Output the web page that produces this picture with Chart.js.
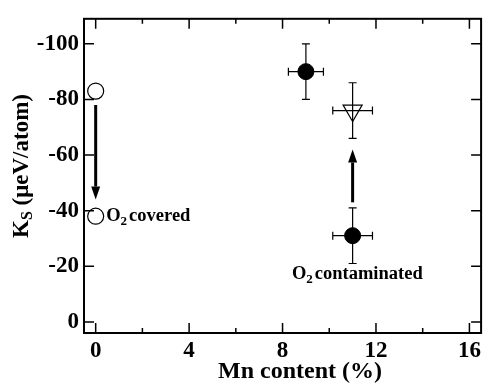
<!DOCTYPE html>
<html>
<head>
<meta charset="utf-8">
<script src="https://cdn.jsdelivr.net/npm/chart.js@4.4.0/dist/chart.umd.min.js"></script>
<style>
  html, body { margin: 0; padding: 0; background: #fff; }
  #wrap { width: 485px; height: 392px; }
</style>
</head>
<body>
<div id="wrap"><canvas id="ksChart"></canvas></div>
<script>
// O2 covered films (open circles)
const coveredMn = [0, 0];
const coveredKs = [-83, -38];
// clean films (filled circles)
const cleanMn = [9, 11];
const cleanKs = [-90, -31];
const cleanMnErr = [0.75, 0.85];
const cleanKsErr = [10, 10];
// O2 contaminated film (open triangle)
const contamMn = [11];
const contamKs = [-76];
const contamMnErr = [0.85];
const contamKsErr = [10];

const xMajorTicks = [0, 4, 8, 12, 16];
const xMinorTicks = [2, 6, 10, 14];
const yTicks = [0, -20, -40, -60, -80, -100];

// arrows as [mn, ks start, ks end]
const arrows = [[0, -78, -44], [11, -43, -62]];
// labels: left edge at (mn, ks)
const notes = [
  { mn: 0.45, ks: -38, text: 'covered' },
  { mn: 8.4, ks: -17, text: 'contaminated' }
];

const SERIF = '"Liberation Serif", "Times New Roman", serif';
const toPoints = (xs, ys) => xs.map((x, i) => ({ x: x, y: ys[i] }));

// "O" + subscript 2 + rest of the label
function drawO2(ctx, x, y, rest) {
  ctx.font = 'bold 18.5px ' + SERIF;
  ctx.fillText('O', x, y);
  x += ctx.measureText('O').width;
  ctx.font = 'bold 13px ' + SERIF;
  ctx.fillText('2', x, y + 5);
  x += ctx.measureText('2').width + 2;
  ctx.font = 'bold 18.5px ' + SERIF;
  ctx.fillText(rest, x, y);
}

const extras = {
  id: 'extras',
  beforeDatasetsDraw(chart) {
    const { ctx, scales: { x, y } } = chart;
    ctx.save();
    ctx.strokeStyle = '#000';
    ctx.lineWidth = 1.2;
    chart.data.datasets.forEach(ds => {
      if (!ds.xErr) return;
      ds.data.forEach((p, i) => {
        const px = x.getPixelForValue(p.x), py = y.getPixelForValue(p.y);
        const x0 = x.getPixelForValue(p.x - ds.xErr[i]);
        const x1 = x.getPixelForValue(p.x + ds.xErr[i]);
        const y0 = y.getPixelForValue(p.y - ds.yErr[i]);
        const y1 = y.getPixelForValue(p.y + ds.yErr[i]);
        const cap = 4;
        ctx.beginPath();
        ctx.moveTo(x0, py); ctx.lineTo(x1, py);
        ctx.moveTo(x0, py - cap); ctx.lineTo(x0, py + cap);
        ctx.moveTo(x1, py - cap); ctx.lineTo(x1, py + cap);
        ctx.moveTo(px, y0); ctx.lineTo(px, y1);
        ctx.moveTo(px - cap, y0); ctx.lineTo(px + cap, y0);
        ctx.moveTo(px - cap, y1); ctx.lineTo(px + cap, y1);
        ctx.stroke();
      });
    });
    ctx.restore();
  },
  afterDraw(chart) {
    const { ctx, chartArea: a, scales: { x, y } } = chart;
    ctx.save();
    ctx.strokeStyle = '#000';
    ctx.fillStyle = '#000';

    // frame
    ctx.lineWidth = 2;
    ctx.strokeRect(a.left, a.top, a.right - a.left, a.bottom - a.top);

    // inward ticks on all four sides
    ctx.lineWidth = 1.5;
    ctx.beginPath();
    const xt = (v, len) => {
      const px = x.getPixelForValue(v);
      ctx.moveTo(px, a.bottom); ctx.lineTo(px, a.bottom - len);
      ctx.moveTo(px, a.top); ctx.lineTo(px, a.top + len);
    };
    xMajorTicks.forEach(v => xt(v, 10));
    xMinorTicks.forEach(v => xt(v, 5));
    yTicks.forEach(v => {
      const py = y.getPixelForValue(v);
      ctx.moveTo(a.left, py); ctx.lineTo(a.left + 10, py);
      ctx.moveTo(a.right, py); ctx.lineTo(a.right - 10, py);
    });
    ctx.stroke();

    // arrows
    ctx.lineWidth = 3;
    arrows.forEach(([mn, k0, k1]) => {
      const px = x.getPixelForValue(mn);
      const p0 = y.getPixelForValue(k0), p1 = y.getPixelForValue(k1);
      const dir = Math.sign(p1 - p0), head = 13;
      ctx.beginPath();
      ctx.moveTo(px, p0);
      ctx.lineTo(px, p1 - dir * head);
      ctx.stroke();
      ctx.beginPath();
      ctx.moveTo(px, p1);
      ctx.lineTo(px - 4.5, p1 - dir * head);
      ctx.lineTo(px + 4.5, p1 - dir * head);
      ctx.closePath();
      ctx.fill();
    });

    // notes
    ctx.textBaseline = 'middle';
    ctx.textAlign = 'left';
    notes.forEach(n => {
      drawO2(ctx, x.getPixelForValue(n.mn), y.getPixelForValue(n.ks), n.text);
    });

    // x axis title
    ctx.textAlign = 'center';
    ctx.font = 'bold 24px ' + SERIF;
    ctx.fillText('Mn content (%)', 300, 372);

    // y axis title with subscript S
    ctx.translate(22, 166);
    ctx.rotate(-Math.PI / 2);
    ctx.textAlign = 'left';
    const big = 'bold 23px ' + SERIF, small = 'bold 16px ' + SERIF;
    ctx.font = big;
    const wK = ctx.measureText('K').width;
    const wRest = ctx.measureText(' (\u03bceV/atom)').width;
    ctx.font = small;
    const wS = ctx.measureText('S').width;
    let cx = -(wK + wS + wRest) / 2;
    ctx.font = big;
    ctx.fillText('K', cx, 0);
    cx += wK;
    ctx.font = small;
    ctx.fillText('S', cx, 6);
    cx += wS;
    ctx.font = big;
    ctx.fillText(' (\u03bceV/atom)', cx, 0);
    ctx.restore();
  }
};

new Chart(document.getElementById('ksChart'), {
  type: 'scatter',
  data: {
    datasets: [
      {
        label: 'O2 covered',
        data: toPoints(coveredMn, coveredKs),
        pointStyle: 'circle',
        pointRadius: 8,
        pointBorderWidth: 1.2,
        pointBorderColor: '#000',
        pointBackgroundColor: '#fff'
      },
      {
        label: 'clean',
        data: toPoints(cleanMn, cleanKs),
        xErr: cleanMnErr,
        yErr: cleanKsErr,
        pointStyle: 'circle',
        pointRadius: 8,
        pointBorderWidth: 1,
        pointBorderColor: '#000',
        pointBackgroundColor: '#000'
      },
      {
        label: 'O2 contaminated',
        data: toPoints(contamMn, contamKs),
        xErr: contamMnErr,
        yErr: contamKsErr,
        pointStyle: 'triangle',
        rotation: 180,
        pointRadius: 11,
        pointBorderWidth: 1.2,
        pointBorderColor: '#000',
        pointBackgroundColor: 'rgba(0,0,0,0)'
      }
    ]
  },
  options: {
    responsive: true,
    maintainAspectRatio: false,
    animation: false,
    events: [],
    layout: { autoPadding: false, padding: { top: 7, right: 3, left: 0, bottom: 0 } },
    plugins: {
      legend: { display: false },
      tooltip: { enabled: false }
    },
    scales: {
      x: {
        type: 'linear',
        min: -0.5,
        max: 16.5,
        afterBuildTicks: s => { s.ticks = xMajorTicks.map(v => ({ value: v })); },
        afterFit: s => { s.height = 59; },
        grid: { display: false, drawTicks: false },
        border: { display: false },
        ticks: {
          padding: 4,
          color: '#000',
          font: { family: SERIF, size: 23, weight: 'bold' },
          callback: v => String(v)
        }
      },
      y: {
        type: 'linear',
        reverse: true,
        min: -109,
        max: 4,
        afterBuildTicks: s => { s.ticks = yTicks.map(v => ({ value: v })); },
        afterFit: s => { s.width = 84; },
        grid: { display: false, drawTicks: false },
        border: { display: false },
        ticks: {
          padding: 5,
          color: '#000',
          font: { family: SERIF, size: 23, weight: 'bold' },
          callback: v => String(v)
        }
      }
    }
  },
  plugins: [extras]
});
</script>
</body>
</html>
